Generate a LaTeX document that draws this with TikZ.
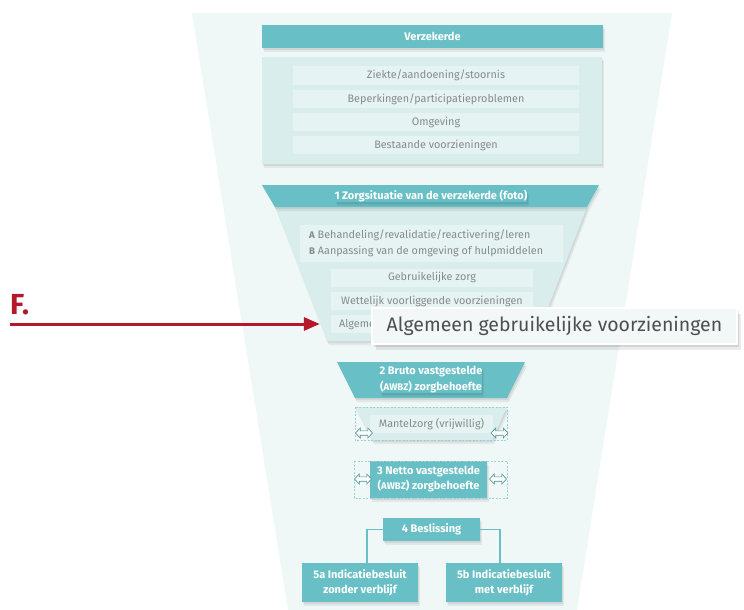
\documentclass[tikz,border=0pt]{standalone}
\usepackage{fontspec}
\setmainfont{Fira Sans}
\usetikzlibrary{shadows,arrows.meta,calc}
\definecolor{teal1}{HTML}{68C0C6}
\definecolor{light1}{HTML}{D9EDED}
\definecolor{row1}{HTML}{E6F3F3}
\definecolor{bg1}{HTML}{F0F7F7}
\definecolor{gray1}{HTML}{858A8A}
\definecolor{dark1}{HTML}{4E4E4E}
\definecolor{red1}{HTML}{B5172B}
\definecolor{pop1}{HTML}{F2F8F8}
\tikzset{
  myshadow/.style={general shadow={fill=black, opacity=0.07, shadow xshift=1pt, shadow yshift=-2pt},
                   general shadow={fill=black, opacity=0.06, shadow xshift=2pt, shadow yshift=-4pt}},
  bar/.style={fill=teal1, text=white, font=\bfseries\fontsize{11}{16}\selectfont, inner sep=0pt, align=center, myshadow},
  lbox/.style={fill=light1, inner sep=0pt, myshadow},
  rowbox/.style={fill=row1, text=gray1, font=\fontsize{10.8}{12}\selectfont, inner sep=0pt, minimum height=18pt},
  dashbox/.style={draw=teal1!70, dash pattern=on 2pt off 1.5pt, line width=0.5pt},
  conn/.style={draw=teal1, line width=1.6pt},
  redarrow/.style={draw=red1, line width=3pt, -{Triangle[length=16pt,width=13pt]}},
  dbl/.pic={\draw[fill=white, draw=teal1!75!black, line width=0.6pt] (-8.5,0) -- (-3.8,-5) -- (-3.8,-2.2) -- (3.8,-2.2) -- (3.8,-5) -- (8.5,0) -- (3.8,5) -- (3.8,2.2) -- (-3.8,2.2) -- (-3.8,5) -- cycle;}
}
\newcommand{\smc}[1]{{\fontsize{9.6}{10}\selectfont #1}}
\begin{document}
\begin{tikzpicture}[x=1pt,y=-1pt]
\useasboundingbox (0,0) rectangle (744,610);
% funnel background
\fill[bg1] (192,13) -- (672,13) -- (577,610) -- (288,610) -- cycle;

% Verzekerde
\node[bar, minimum width=341pt, minimum height=23pt] (verz) at (432.5,36.5) {Verzekerde};
\node[lbox, minimum width=340pt, minimum height=107pt] (box2) at (432,110.5) {};
\node[rowbox, minimum width=286pt] (r1) at (436,75.5) {Ziekte/aandoening/stoornis};
\node[rowbox, minimum width=286pt] (r2) at (436,99) {Beperkingen/participatieproblemen};
\node[rowbox, minimum width=286pt] (r3) at (436,122) {Omgeving};
\node[rowbox, minimum width=286pt] (r4) at (436,145) {Bestaande voorzieningen};

% 1 Zorgsituatie
\fill[light1, myshadow] (275,207) -- (587,207) -- (535,341) -- (327,341) -- cycle;
\fill[teal1, myshadow] (262,185) -- (599,185) -- (587,207) -- (275,207) -- cycle;
\node[bar] (zorg) at (431,196) {1 Zorgsituatie van de verzekerde (foto)};
\node[rowbox, minimum width=263pt, minimum height=37pt] (ab) at (431.5,243.5) {};
\node[anchor=west, inner sep=0pt, text=gray1, align=left, font=\fontsize{10.8}{16}\selectfont] (abtext) at (309,243.5)
  {{\bfseries\smc{A}} Behandeling/revalidatie/reactivering/leren\\{\bfseries\smc{B}} Aanpassing van de omgeving of hulpmiddelen};
\node[rowbox, minimum width=202pt] (geb) at (432,277.5) {Gebruikelijke zorg};
\node[rowbox, minimum width=202pt] (wet) at (432,301) {Wettelijk voorliggende voorzieningen};
\node[rowbox, minimum width=202pt] (alg) at (432,324) {Algemeen gebruikelijke voorzieningen};

% popup
\node[fill=pop1, draw=white, line width=1.5pt, minimum width=365pt, minimum height=36pt, inner sep=0pt,
  font=\fontsize{19.5}{21}\selectfont, text=dark1,
  general shadow={fill=black, opacity=0.10, shadow xshift=2pt, shadow yshift=-3pt},
  general shadow={fill=black, opacity=0.08, shadow xshift=4pt, shadow yshift=-6pt}] (pop) at (554.5,326) {Algemeen gebruikelijke voorzieningen};

% F. arrow
\node[anchor=south west, inner sep=0pt, text=red1, font=\bfseries\fontsize{29}{29}\selectfont] (flab) at (10,315) {F.};
\coordinate (fs) at (10,324);
\draw[redarrow] (fs) -- ([xshift=-11pt]alg.west);

% 2 Bruto
\fill[teal1, myshadow] (337,362) -- (525,362) -- (507,398) -- (355,398) -- cycle;
\node[bar] (bruto) at (431,380) {2 Bruto vastgestelde\\(\smc{AWBZ}) zorgbehoefte};

% Mantelzorg
\fill[light1, myshadow] (355,407) -- (507,407) -- (492,440) -- (372,440) -- cycle;
\node[rowbox, minimum width=123pt] (mantel) at (431.5,424) {Mantelzorg (vrijwillig)};
\draw[dashbox] (355,407) rectangle (507,440);
\pic (ml) at (364,433) {dbl};
\pic (mr) at (499.5,433) {dbl};

% 3 Netto
\node[bar, minimum width=117pt, minimum height=37pt, font=\bfseries\fontsize{11}{15}\selectfont] (netto) at (428.5,479.5) {3 Netto vastgestelde\\(\smc{AWBZ}) zorgbehoefte};
\draw[dashbox] (354,461) rectangle (507,498);
\pic (nl) at (363,479) {dbl};
\pic (nr) at (498,479) {dbl};

% 4 Beslissing
\node[bar, minimum width=97pt, minimum height=23pt] (besl) at (431.5,529.5) {4 Beslissing};
\node[bar, minimum width=116pt, minimum height=39pt, font=\bfseries\fontsize{11}{14.5}\selectfont] (z5a) at (360,582.5) {5a Indicatiebesluit\\zonder verblijf};
\node[bar, minimum width=116pt, minimum height=39pt, font=\bfseries\fontsize{11}{14.5}\selectfont] (z5b) at (504,582.5) {5b Indicatiebesluit\\met verblijf};
\draw[conn] (besl.west) -| ([xshift=7pt]z5a.north);
\draw[conn] (besl.east) -| ([xshift=-4pt]z5b.north);
\end{tikzpicture}
\end{document}
